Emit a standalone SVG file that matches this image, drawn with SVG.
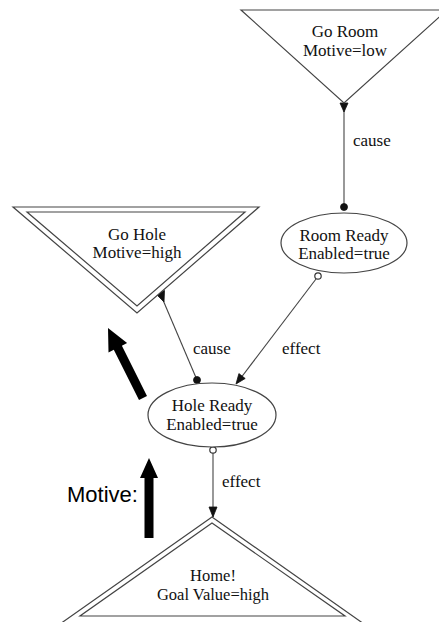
<svg xmlns="http://www.w3.org/2000/svg" width="439" height="622" viewBox="0 0 439 622">
<style>
.shape{fill:#fff;stroke:#444;stroke-width:1.2}
.edge{fill:none;stroke:#444;stroke-width:1.1}
.head{fill:#111;stroke:#111;stroke-width:0.8}
.open{fill:#fff;stroke:#333;stroke-width:1.2}
.t{font-family:"Liberation Serif","Times New Roman",serif;font-size:17px;fill:#111;text-anchor:middle}
.lbl{font-family:"Liberation Serif","Times New Roman",serif;font-size:17px;fill:#111}
.big{fill:#000}
</style>
<rect width="439" height="622" fill="#fff"/>
<g id="connectors">
  <line class="edge" x1="344" y1="103" x2="344" y2="207"/>
  <polygon class="head" points="340,103 348,103 344,112"/>
  <circle class="head" cx="344" cy="207" r="3.5"/>
  <text class="lbl" x="353" y="146">cause</text>

  <line class="edge" x1="316" y1="279" x2="237" y2="383"/>
  <circle class="open" cx="318" cy="276" r="3.2"/>
  <polygon class="head" points="236,384 245.2,378.5 238.9,373.6"/>
  <text class="lbl" x="282" y="354">effect</text>

  <line class="edge" x1="160" y1="293" x2="197" y2="380"/>
  <polygon class="head" points="156,294 164.5,290.5 164,302"/>
  <circle class="head" cx="197" cy="380" r="3.5"/>
  <text class="lbl" x="193" y="354">cause</text>

  <line class="edge" x1="213" y1="453" x2="213" y2="517"/>
  <circle class="open" cx="213" cy="450" r="3.2"/>
  <polygon class="head" points="209,507 217,507 213,517"/>
  <text class="lbl" x="222" y="487">effect</text>
</g>
<g id="go-room">
  <polygon class="shape" points="241,10 447,10 344,103"/>
  <text class="t" x="345" y="37">Go Room</text>
  <text class="t" x="345" y="56">Motive=low</text>
</g>
<g id="room-ready">
  <ellipse class="shape" cx="344" cy="243" rx="63" ry="30"/>
  <text class="t" x="344" y="241">Room Ready</text>
  <text class="t" x="344" y="259">Enabled=true</text>
</g>
<g id="go-hole">
  <polygon class="shape" points="13,207 259,207 137,313"/>
  <polygon class="shape" points="27,212 245,212 137,306"/>
  <text class="t" x="137" y="240">Go Hole</text>
  <text class="t" x="137" y="258">Motive=high</text>
</g>
<g id="hole-ready">
  <ellipse class="shape" cx="212" cy="415" rx="64" ry="32"/>
  <text class="t" x="212" y="411">Hole Ready</text>
  <text class="t" x="212" y="430">Enabled=true</text>
</g>
<g id="home">
  <polygon class="shape" points="212,517 364,624 60,624"/>
  <polygon class="shape" points="212,523 345,616 80,616"/>
  <text class="t" x="213" y="581" style="font-size:16.5px">Home!</text>
  <text class="t" x="213" y="600" style="font-size:16.5px">Goal Value=high</text>
</g>
<g id="motive">
  <polygon class="big" points="147,396 121.9,345.7 127.1,343.1 108,328 108.5,352.4 113.8,349.8 139,400"/>
  <polygon class="big" points="149,458 158,478 153.5,478 153.5,538 144.5,538 144.5,478 140,478"/>
  <text x="67" y="502" style="font-family:'Liberation Sans',Arial,sans-serif;font-size:22px;fill:#000">Motive:</text>
</g>
</svg>
